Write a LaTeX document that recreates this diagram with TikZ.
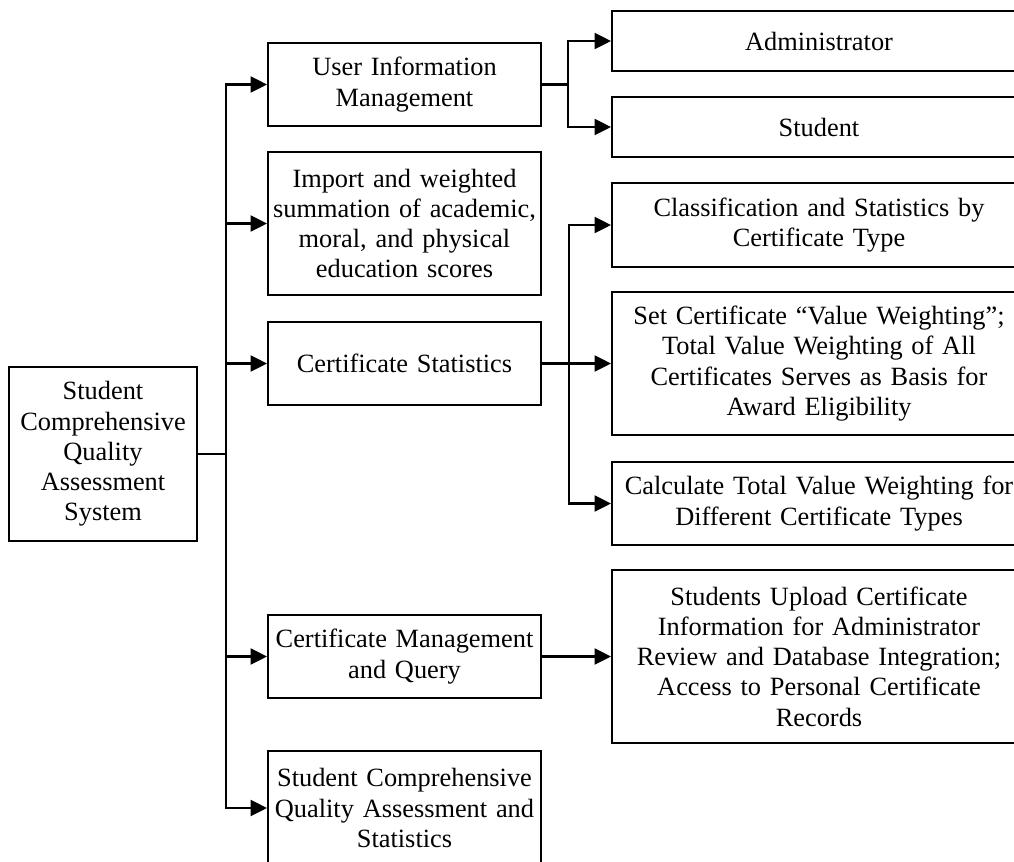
\documentclass[tikz,border=0pt]{standalone}
\usepackage{fontspec}
\setmainfont{Liberation Serif}
\usepackage{tikz}
\usetikzlibrary{arrows.meta}
\usepackage{xcolor}
\definecolor{linie}{RGB}{0,0,0}

\begin{document}
\begin{tikzpicture}[
    box/.style={draw=linie, line width=1.1pt, align=center, inner sep=0pt,
        font=\fontsize{15}{17.2}\selectfont},
    mittel/.style={box, minimum width=5.46cm, text width=5.4cm},
    rechts/.style={box, minimum width=8.28cm, text width=8.2cm},
    pfeil/.style={draw=linie, line width=1.3pt, -{Triangle[length=3.3mm,width=3.2mm]}},
    verbindung/.style={draw=linie, line width=1.3pt}
    ]
        % Rahmen (Bildausschnitt)
        \useasboundingbox (0,0) rectangle (20.28,-17.22);

        % Hauptsystem
        \node[box, minimum width=3.76cm, minimum height=3.48cm, text width=3.7cm] (sys) at (2.06,-9.08)
            {Student\\Comprehensive\\Quality\\Assessment\\System};

        % Module (Mitte)
        \node[mittel, minimum height=1.66cm] (uim) at (8.09,-1.69) {User Information\\Management};
        \node[mittel, minimum height=2.86cm] (imp) at (8.09,-4.47)
            {Import and weighted\\summation of academic,\\moral, and physical\\education scores};
        \node[mittel, minimum height=1.66cm] (cst) at (8.09,-7.27) {Certificate Statistics};
        \node[mittel, minimum height=1.66cm] (cmq) at (8.09,-13.13) {Certificate Management\\and Query};
        \node[mittel, minimum height=2.28cm] (sqa) at (8.09,-16.16)
            {Student Comprehensive\\Quality Assessment and\\Statistics};

        % Unterfunktionen (rechts)
        \node[rechts, minimum height=1.2cm] (adm) at (16.38,-0.82) {Administrator};
        \node[rechts, minimum height=1.2cm] (stu) at (16.38,-2.54) {Student};
        \node[rechts, minimum height=1.68cm] (cls) at (16.38,-4.5)
            {Classification and Statistics by\\Certificate Type};
        \node[rechts, minimum height=2.86cm] (set) at (16.38,-7.27)
            {Set Certificate ``Value Weighting'';\\Total Value Weighting of All\\Certificates Serves as Basis for\\Award Eligibility};
        \node[rechts, minimum height=1.66cm] (cal) at (16.38,-10.07)
            {Calculate Total Value Weighting for\\Different Certificate Types};
        \node[rechts, minimum height=3.46cm] (upl) at (16.38,-13.13)
            {Students Upload Certificate\\Information for Administrator\\Review and Database Integration;\\Access to Personal Certificate\\Records};

        % Verzweigungspunkte
        \coordinate (stamm) at (4.52,-9.08);
        \coordinate (ast1) at (11.36,-1.69);
        \coordinate (ast2) at (11.38,-7.27);

        % Verbindungen
        \draw[verbindung] (sys.east) -- (stamm);
        \foreach \ziel in {uim,imp,cst,cmq,sqa}
            \draw[pfeil] (stamm) |- (\ziel.west);

        \draw[verbindung] (uim.east) -- (ast1);
        \draw[pfeil] (ast1) |- (adm.west);
        \draw[pfeil] (ast1) |- (stu.west);

        \draw[pfeil] (cst.east) -- (set.west);
        \draw[pfeil] (ast2) |- (cls.west);
        \draw[pfeil] (ast2) |- (cal.west);

        \draw[pfeil] (cmq.east) -- (upl.west);
\end{tikzpicture}
\end{document}
